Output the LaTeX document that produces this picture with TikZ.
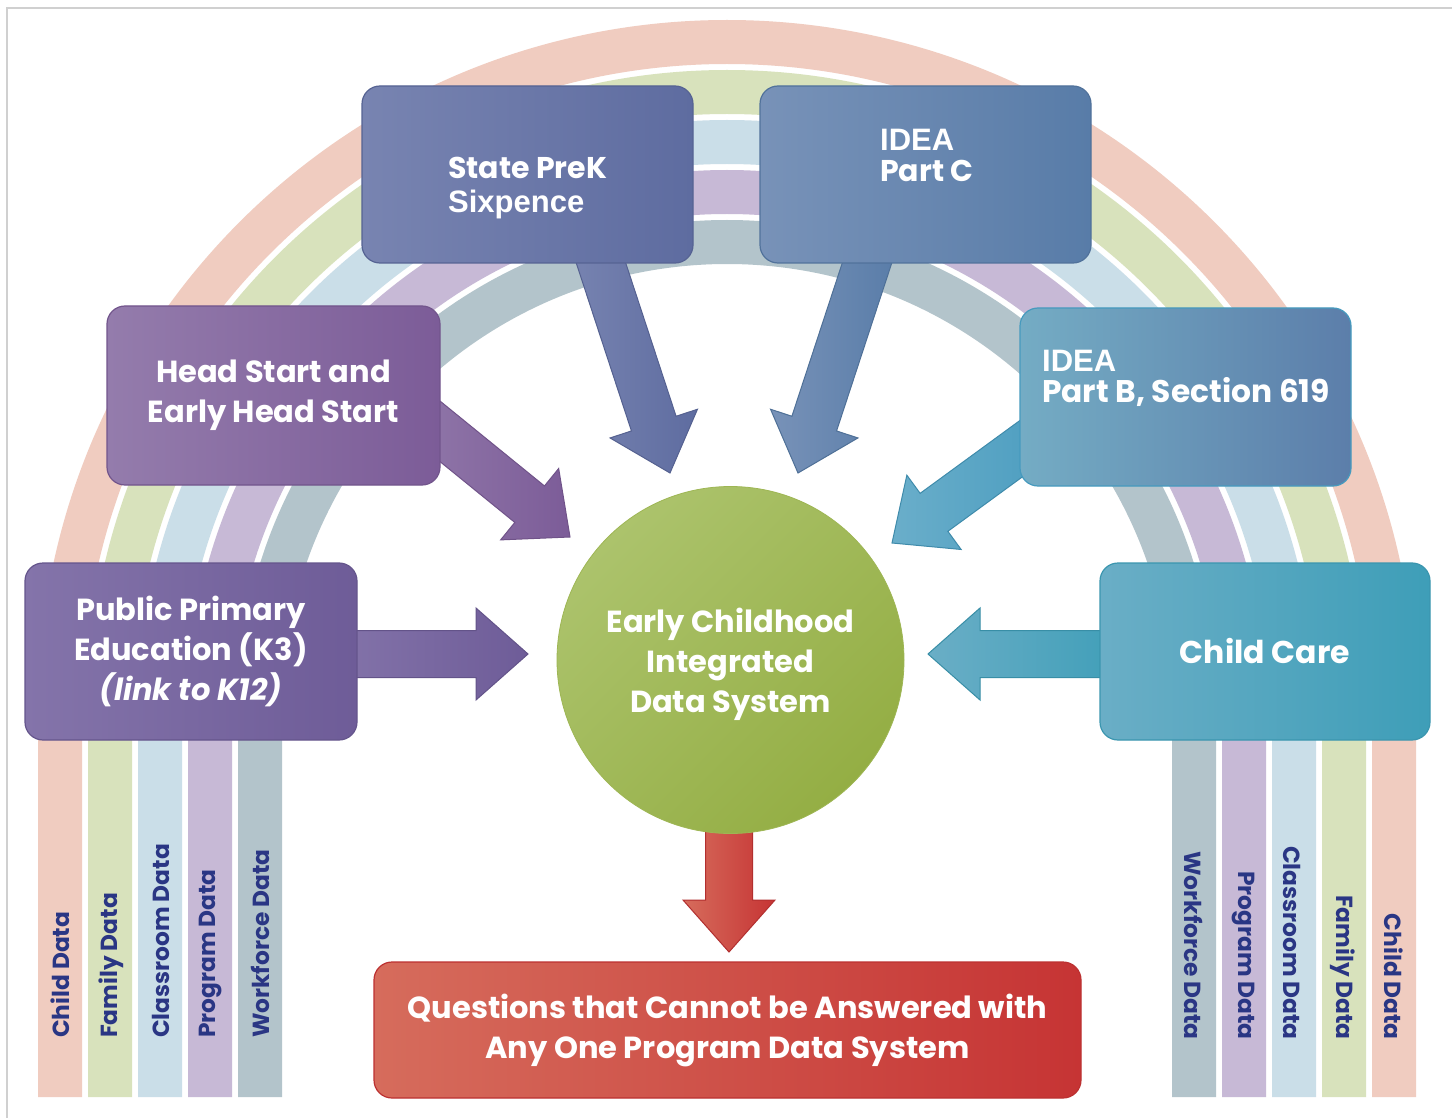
\documentclass[tikz,border=0pt]{standalone}
\usepackage{fontspec}
\setmainfont{Poppins}
\newfontfamily\arialf{Liberation Sans}
\usetikzlibrary{calc}
\definecolor{rPink}{RGB}{240,204,192}
\definecolor{rGreen}{RGB}{216,226,188}
\definecolor{rBlue}{RGB}{202,222,232}
\definecolor{rPurple}{RGB}{199,185,214}
\definecolor{rGray}{RGB}{179,196,203}
\definecolor{labelBlue}{RGB}{42,54,132}
\definecolor{prekL}{RGB}{120,132,177}
\definecolor{prekR}{RGB}{94,108,160}
\definecolor{ideacL}{RGB}{120,146,184}
\definecolor{ideacR}{RGB}{88,124,168}
\definecolor{hsL}{RGB}{148,124,172}
\definecolor{hsR}{RGB}{124,92,152}
\definecolor{ideabL}{RGB}{116,172,196}
\definecolor{ideabR}{RGB}{92,126,170}
\definecolor{arrbL}{RGB}{106,174,202}
\definecolor{arrbR}{RGB}{70,154,190}
\definecolor{ppL}{RGB}{132,116,170}
\definecolor{ppR}{RGB}{110,92,152}
\definecolor{ccL}{RGB}{106,174,198}
\definecolor{ccR}{RGB}{62,158,184}
\definecolor{circL}{RGB}{172,195,108}
\definecolor{circR}{RGB}{148,174,68}
\definecolor{redL}{RGB}{214,108,92}
\definecolor{redR}{RGB}{198,52,52}
\definecolor{frameGray}{RGB}{208,208,208}
\newcommand\blockarrow[3]{%
  \coordinate (#1h) at ($(#2)!52pt!(#1)$);
  \path[#3] ($(#1)!23.5pt!90:(#2)$) -- ($(#1h)!23.5pt!90:(#2)$) -- ($(#1h)!46pt!90:(#2)$) -- (#2)
    -- ($(#1h)!46pt!-90:(#2)$) -- ($(#1h)!23.5pt!-90:(#2)$) -- ($(#1)!23.5pt!-90:(#2)$) -- cycle;}
\begin{document}
\begin{tikzpicture}[x=1pt,y=-1pt,
  box/.style={rounded corners=18pt, inner sep=0pt, line width=1.2pt, shading angle=45},
  txt/.style={text=white, align=center, font=\fontsize{30.5}{40}\selectfont\bfseries},
  ltxt/.style={text=white, anchor=west, align=left, inner sep=0pt, font=\fontsize{30}{31}\selectfont\bfseries},
  lbl/.style={text=labelBlue, inner sep=0pt, font=\fontsize{23.3}{24}\selectfont\bfseries},
  barrow/.style={line width=1pt, shading angle=45}]
\useasboundingbox (0,0) rectangle (1452,1118);
\fill[white] (0,0) rectangle (1452,1118);
\draw[frameGray, line width=1.5pt] (7,1118) -- (7,8) -- (1452,8);
% rainbow
\foreach \r/\c in {667/rPink,617/rGreen,567/rBlue,517/rPurple,467/rGray}
  \draw[line width=44pt, \c] ({727-\r},1097) -- ({727-\r},709) arc[start angle=180, end angle=360, radius=\r] -- ({727+\r},1097);
% arrow end points
\coordinate (a1s) at (588.5,225); \coordinate (a1t) at (670,473);
\coordinate (a2s) at (879.5,225); \coordinate (a2t) at (798,473);
\coordinate (a3s) at (399,398);   \coordinate (a3t) at (570,537);
\coordinate (a4s) at (1070,413);  \coordinate (a4t) at (892,543);
\coordinate (a5s) at (330,654);   \coordinate (a5t) at (528,654);
\coordinate (a6s) at (1130,654);  \coordinate (a6t) at (928,654);
\coordinate (a7s) at (729,800);   \coordinate (a7t) at (729,952);
\blockarrow{a1s}{a1t}{barrow, left color=prekL, right color=prekR, draw=prekR!90!black}
\blockarrow{a2s}{a2t}{barrow, left color=ideacL, right color=ideacR, draw=ideacR!90!black}
\blockarrow{a3s}{a3t}{barrow, left color=hsL, right color=hsR, draw=hsR!90!black}
\blockarrow{a4s}{a4t}{barrow, left color=arrbL, right color=arrbR, draw=arrbR!90!black}
\blockarrow{a5s}{a5t}{barrow, left color=ppL, right color=ppR, draw=ppR!90!black}
\blockarrow{a6s}{a6t}{barrow, left color=ccL, right color=ccR, draw=ccR!90!black}
\blockarrow{a7s}{a7t}{barrow, left color=redL, right color=redR, draw=redR!90!black}
% boxes
\node[box, minimum width=331pt, minimum height=177pt, left color=prekL, right color=prekR, draw=prekR!92!black] (prek) at (527.5,174.5) {};
\node[box, minimum width=331pt, minimum height=177pt, left color=ideacL, right color=ideacR, draw=ideacR!92!black] (ideac) at (925.5,174.5) {};
\node[box, minimum width=333pt, minimum height=179pt, left color=hsL, right color=hsR, draw=hsR!92!black, txt] (hs) at (273.5,395.5) {Head Start and\\Early Head Start};
\node[box, minimum width=331pt, minimum height=178pt, left color=ideabL, right color=ideabR, draw=arrbR] (ideab) at (1185.5,397) {};
\node[box, minimum width=332pt, minimum height=177pt, left color=ppL, right color=ppR, draw=ppR!92!black, txt] (pp) at (191,651.5) {Public Primary\\Education (K3)\\\itshape(link to K12)};
\node[box, minimum width=330pt, minimum height=177pt, left color=ccL, right color=ccR, draw=ccR!95!black, txt, font=\fontsize{31.5}{40}\selectfont\bfseries] (cc) at (1265,651.5) {Child Care};
\node[box, minimum width=707pt, minimum height=136pt, left color=redL, right color=redR, draw=redR!95!black, txt] (red) at (727.5,1030) {Questions that Cannot be Answered with\\Any One Program Data System};
\node[circle, minimum size=347pt, inner sep=0pt, left color=circL, right color=circR, shading angle=45, draw=circR!60!circL, line width=0.8pt] (ecids) at (730.5,660) {};
\node[txt] (ecidst) at (730.5,664) {Early Childhood\\Integrated\\Data System};
% texts in top boxes
\node[ltxt, font=\fontsize{30}{34}\selectfont\bfseries] (prekt) at (448,188) {State PreK\\{\arialf\fontsize{31}{34}\selectfont\bfseries Sixpence}};
\node[ltxt] (ideact) at (880,155) {{\arialf\fontsize{31}{31}\selectfont\bfseries IDEA}\\Part C};
\node[ltxt, font=\fontsize{31.3}{31}\selectfont\bfseries] (ideabt) at (1042,378) {{\arialf\fontsize{31}{31}\selectfont\bfseries IDEA}\\Part B, Section 619};
% strip labels
\node[lbl, rotate=90, anchor=west] (lchild) at (60,1038) {Child Data};
\node[lbl, rotate=90, anchor=west] (lfamily) at (111,1038) {Family Data};
\node[lbl, rotate=90, anchor=west] (lclass) at (161,1038) {Classroom Data};
\node[lbl, rotate=90, anchor=west] (lprog) at (211,1038) {Program Data};
\node[lbl, rotate=90, anchor=west] (lwork) at (260,1038) {Workforce Data};
\node[lbl, rotate=-90, anchor=east] (rwork) at (1194,1040) {Workforce Data};
\node[lbl, rotate=-90, anchor=east] (rprog) at (1243,1040) {Program Data};
\node[lbl, rotate=-90, anchor=east] (rclass) at (1292,1040) {Classroom Data};
\node[lbl, rotate=-90, anchor=east] (rfamily) at (1343,1040) {Family Data};
\node[lbl, rotate=-90, anchor=east] (rchild) at (1394,1040) {Child Data};
\end{tikzpicture}
\end{document}
